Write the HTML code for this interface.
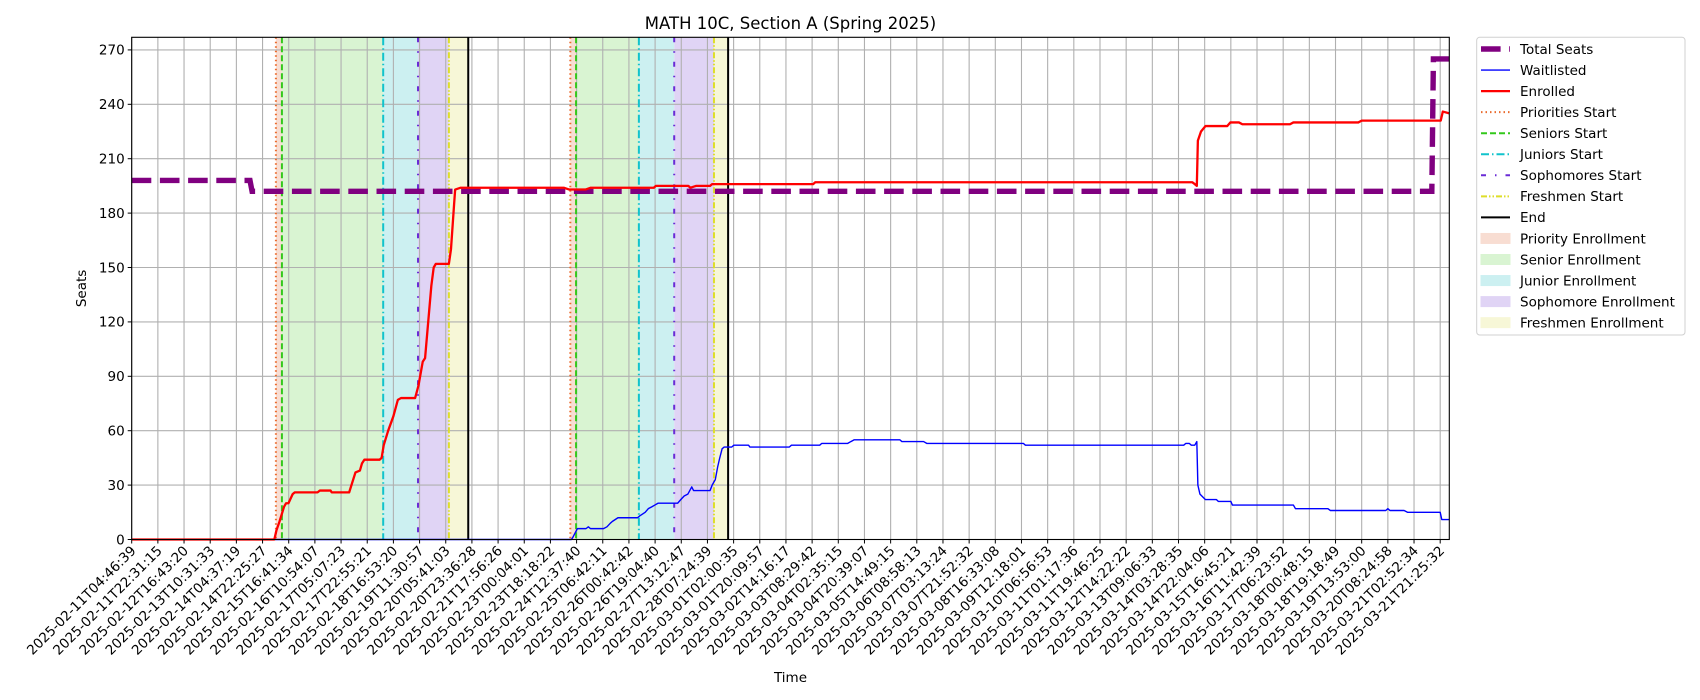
<!DOCTYPE html>
<html><head><meta charset="utf-8"><style>
html,body{margin:0;padding:0;background:#fff;}
svg{display:block;font-family:"DejaVu Sans","Liberation Sans",sans-serif;}
</style></head><body>
<svg id="chart" width="1700" height="700" viewBox="0 0 1700 700">
<text x="790.5" y="29" font-size="16.5" text-anchor="middle">MATH 10C, Section A (Spring 2025)</text>
<g id="spans"></g><g id="grid"></g><g id="vlines"></g><g id="series"></g><g id="axes"></g><g id="legend"></g>
</svg>
<script>
// ---- data (x in tick-index units, y in seats) ----
const tickLabels = ["2025-02-11T04:46:39","2025-02-11T22:31:15","2025-02-12T16:43:20","2025-02-13T10:31:33","2025-02-14T04:37:19","2025-02-14T22:25:27","2025-02-15T16:41:34","2025-02-16T10:54:07","2025-02-17T05:07:23","2025-02-17T22:55:21","2025-02-18T16:53:20","2025-02-19T11:30:57","2025-02-20T05:41:03","2025-02-20T23:36:28","2025-02-21T17:56:26","2025-02-23T00:04:01","2025-02-23T18:18:22","2025-02-24T12:37:40","2025-02-25T06:42:11","2025-02-26T00:42:42","2025-02-26T19:04:40","2025-02-27T13:12:47","2025-02-28T07:24:39","2025-03-01T02:00:35","2025-03-01T20:09:57","2025-03-02T14:16:17","2025-03-03T08:29:42","2025-03-04T02:35:15","2025-03-04T20:39:07","2025-03-05T14:49:15","2025-03-06T08:58:13","2025-03-07T03:13:24","2025-03-07T21:52:32","2025-03-08T16:33:08","2025-03-09T12:18:01","2025-03-10T06:56:53","2025-03-11T01:17:36","2025-03-11T19:46:25","2025-03-12T14:22:22","2025-03-13T09:06:33","2025-03-14T03:28:35","2025-03-14T22:04:06","2025-03-15T16:45:21","2025-03-16T11:42:39","2025-03-17T06:23:52","2025-03-18T00:48:15","2025-03-18T19:18:49","2025-03-19T13:53:00","2025-03-20T08:24:58","2025-03-21T02:52:34","2025-03-21T21:25:32"];
const yTicks = [0,30,60,90,120,150,180,210,240,270];
const totalX = [0,4.52,4.6,49.68,49.74,50.35];
const totalY = [198,198,192,192,265,265];
const enrolledX = [0,5.45,5.53,5.65,5.82,5.90,5.99,6.15,6.23,6.32,7.10,7.19,7.60,7.64,8.31,8.55,8.72,8.80,8.89,9.47,9.55,9.63,9.80,10.00,10.17,10.29,10.83,10.96,11.12,11.21,11.33,11.45,11.54,11.62,12.12,12.20,12.32,12.36,12.57,16.51,16.72,17.34,17.54,19.95,20.03,21.27,21.35,21.56,22.10,22.18,26.04,26.12,40.53,40.62,40.70,40.74,40.86,41.03,41.86,41.98,42.31,42.44,44.26,44.39,46.87,47.00,50.02,50.10,50.35];
const enrolledY = [0,0,5,10,18,20,20,25,26,26,26,27,27,26,26,37,38,42,44,44,45,52,60,68,77,78,78,85,98,100,120,140,150,152,152,160,185,193,194,194,193,193,194,194,195,195,194,195,195,196,196,197,197,196,195,220,225,228,228,230,230,229,229,230,230,231,231,236,235];
const waitX = [0,16.8,16.85,17.03,17.36,17.45,17.53,18.03,18.16,18.29,18.37,18.58,19.33,19.41,19.62,19.74,19.87,19.99,20.11,20.86,20.98,21.11,21.25,21.40,21.47,22.10,22.18,22.30,22.39,22.47,22.56,22.64,22.93,23.01,23.57,23.62,25.13,25.21,26.29,26.37,27.36,27.48,27.61,29.35,29.43,30.26,30.38,34.07,34.15,40.20,40.28,40.41,40.49,40.62,40.70,40.74,40.82,41.03,41.45,41.52,42.0,42.06,44.39,44.47,45.71,45.80,47.92,48.00,48.08,48.62,48.75,50.00,50.06,50.35];
const waitY = [0,0,1,6,6,7,6,6,7,9,10,12,12,13,15,17,18,19,20,20,22,24,25,29,27,27,30,33,40,45,50,51,51,52,52,51,51,52,52,53,53,54,55,55,54,54,53,53,52,52,53,53,52,52,54,30,25,22,22,21,21,19,19,17,17,16,16,17,16,16,15,15,11,11];
const phaseNames = ["Priority","Senior","Junior","Sophomore","Freshmen"];
const phaseStarts1 = [5.51,5.74,9.61,10.94,12.12];
const phaseEnd1 = 12.86;
const phaseStarts2 = [16.76,16.98,19.38,20.73,22.25];
const phaseEnd2 = 22.79;

// ---- scales ----
const L=131.7,R=1449.3,T=37.3,B=539.5,STEP=26.17,Y0=539.5,YK=1.8133;
const xs=u=>L+u*STEP, ys=v=>Y0-v*YK;
const NS="http://www.w3.org/2000/svg";
function mk(tag,attrs,parent){const e=document.createElementNS(NS,tag);for(const k in attrs)e.setAttribute(k,attrs[k]);parent.appendChild(e);return e;}
const G=id=>document.getElementById(id);
const spanFill=["#f8ddd2","#d9f4d2","#ccf0f1","#e0d4f5","#f7f7d7"];
const lineCol=["#ea6a2c","#33c81b","#11c3cc","#6a2bd6","#dede2a"];
const lineDash=["1.5,3","6,3","8,3,1.5,3","5,9,1.5,9","6,2,1.5,2,1.5,2"];

// spans
[[phaseStarts1,phaseEnd1],[phaseStarts2,phaseEnd2]].forEach(([st,en],w)=>{
  st.forEach((s,i)=>{const e=i<st.length-1?st[i+1]:en;
    const r=mk("rect",{x:xs(s),y:T,width:xs(e)-xs(s),height:B-T,fill:spanFill[i]},G("spans"));
    
    
  });
});
// grid
for(let i=0;i<tickLabels.length;i++){const g=mk("line",{x1:xs(i),x2:xs(i),y1:T,y2:B,stroke:"#b0b0b0","stroke-width":1.1},G("grid"));
  
  }
yTicks.forEach(v=>{const g=mk("line",{x1:L,x2:R,y1:ys(v),y2:ys(v),stroke:"#b0b0b0","stroke-width":1.1},G("grid"));
  
  });
// vertical phase lines
[[phaseStarts1,phaseEnd1],[phaseStarts2,phaseEnd2]].forEach(([st,en])=>{
  st.forEach((s,i)=>{const l=mk("line",{x1:xs(s),x2:xs(s),y1:T,y2:B,stroke:lineCol[i],"stroke-width":2,"stroke-dasharray":lineDash[i]},G("vlines"));
    
    });
  const l=mk("line",{x1:xs(en),x2:xs(en),y1:T,y2:B,stroke:"#000","stroke-width":2},G("vlines"));
  
  
});
// series
function pts(X,Y){return X.map((x,i)=>xs(x).toFixed(2)+","+ys(Y[i]).toFixed(2)).join(" ");}
let p=mk("polyline",{points:pts(totalX,totalY),fill:"none",stroke:"#800080","stroke-width":5.4,"stroke-dasharray":"19.6,8.6"},G("series"));


p=mk("polyline",{points:pts(waitX,waitY),fill:"none",stroke:"#0000ff","stroke-width":1.4,"stroke-linejoin":"round"},G("series"));


p=mk("polyline",{points:pts(enrolledX,enrolledY),fill:"none",stroke:"#ff0000","stroke-width":2.3,"stroke-linejoin":"round"},G("series"));


// axes
const ax=G("axes");
let fr=mk("rect",{x:L,y:T,width:R-L,height:B-T,fill:"none",stroke:"#000","stroke-width":1.1},ax);


yTicks.forEach(v=>{mk("line",{x1:L-4,x2:L,y1:ys(v),y2:ys(v),stroke:"#000","stroke-width":1},ax);
  const t=mk("text",{x:L-7,y:ys(v)+4.8,"font-size":13.5,"text-anchor":"end"},ax);t.textContent=v;
  
  });
tickLabels.forEach((s,i)=>{mk("line",{x1:xs(i),x2:xs(i),y1:B,y2:B+4,stroke:"#000","stroke-width":1},ax);
  const x=xs(i)+5,y=B+12;
  const t=mk("text",{x:x,y:y,"font-size":13.5,"text-anchor":"end",transform:`rotate(-45 ${x} ${y})`},ax);t.textContent=s;
  
  });
let yl=mk("text",{x:86,y:(T+B)/2,"font-size":13.5,"text-anchor":"middle",transform:`rotate(-90 86 ${(T+B)/2})`},ax);yl.textContent="Seats";


let xl=mk("text",{x:(L+R)/2,y:682,"font-size":13.5,"text-anchor":"middle"},ax);xl.textContent="Time";


// legend
const lg=G("legend");
let box=mk("rect",{x:1476.7,y:37.3,width:208.3,height:297.7,rx:3,fill:"#fff",stroke:"#d0d0d0","stroke-width":1},lg);


const legLabels=["Total Seats","Waitlisted","Enrolled","Priorities Start","Seniors Start","Juniors Start","Sophomores Start","Freshmen Start","End","Priority Enrollment","Senior Enrollment","Junior Enrollment","Sophomore Enrollment","Freshmen Enrollment"];
legLabels.forEach((s,i)=>{const cy=49+i*21.05;
  if(i===0){mk("line",{x1:1481,x2:1510,y1:cy,y2:cy,stroke:"#800080","stroke-width":5.4,"stroke-dasharray":"19.6,8.6"},lg);}
  else if(i===1){mk("line",{x1:1481,x2:1510,y1:cy,y2:cy,stroke:"#0000ff","stroke-width":1.4},lg);}
  else if(i===2){mk("line",{x1:1481,x2:1510,y1:cy,y2:cy,stroke:"#ff0000","stroke-width":2.3},lg);}
  else if(i<8){mk("line",{x1:1481,x2:1510,y1:cy,y2:cy,stroke:lineCol[i-3],"stroke-width":2,"stroke-dasharray":lineDash[i-3]},lg);}
  else if(i===8){mk("line",{x1:1481,x2:1510,y1:cy,y2:cy,stroke:"#000","stroke-width":2},lg);}
  else {mk("rect",{x:1481,y:cy-5,width:29,height:10,fill:spanFill[i-9],stroke:spanFill[i-9]},lg);}
  const t=mk("text",{x:1520,y:cy+4.8,"font-size":13.5},lg);t.textContent=s;
  
  
});
</script>
</body></html>
